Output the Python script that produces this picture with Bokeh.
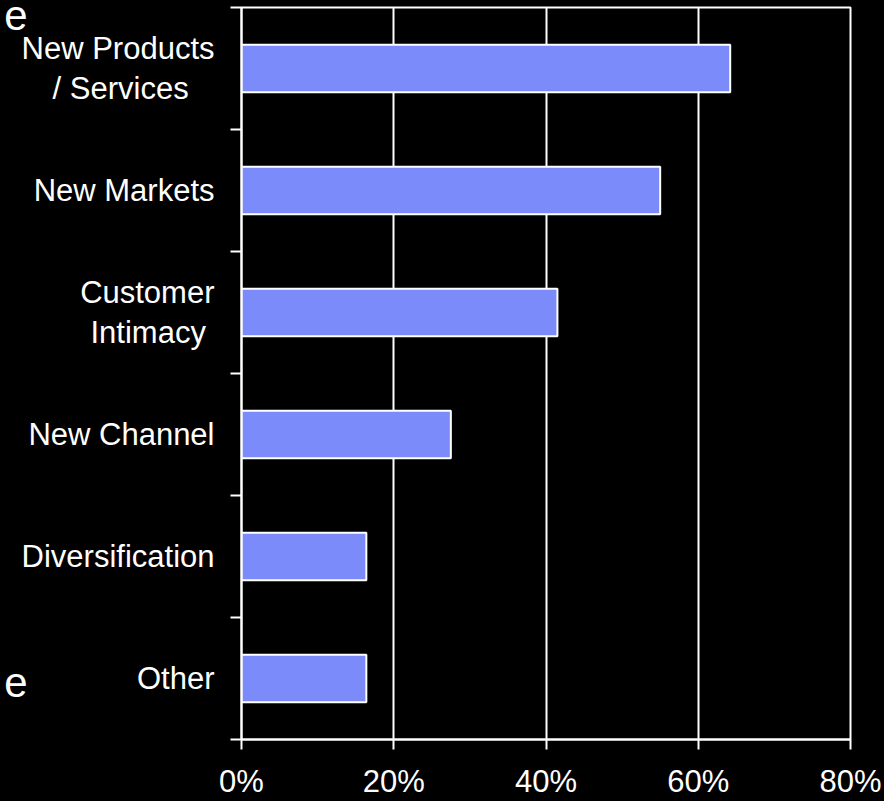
from bokeh.plotting import figure
from bokeh.models import (Range1d, FixedTicker, PrintfTickFormatter, LinearAxis,
                          GlobalInlineStyleSheet, ColumnDataSource)
from bokeh.embed import file_html
from bokeh.resources import INLINE

# ---- data (top to bottom) ----
categories = ["New Products\n/ Services", "New Markets", "Customer\nIntimacy",
              "New Channel", "Diversification", "Other"]
values = [64.2, 55.0, 41.5, 27.5, 16.4, 16.4]          # percent
x_ticks = [0, 20, 40, 60, 80]
# cropped fragments of surrounding slide text at the far left
fragment_text = ["e", "e"]
fragment_pos = [0.04, 5.53]

FONT = "Liberation Sans"
BAR = "#7B8BFA"
FS = "31px"
NBSP = "\u00a0"

n = len(categories)
pos = [i + 0.5 for i in range(n)]

# approximate advance widths (em) of the sans font, used to centre two-line labels
_W = {" ": .278, "/": .278, "N": .722, "P": .667, "S": .667, "C": .722, "I": .278,
      "e": .556, "w": .722, "r": .333, "o": .556, "d": .556, "u": .556, "c": .5,
      "t": .278, "s": .5, "v": .5, "i": .222, "m": .833, "n": .556, "a": .556, "y": .5}


def _width(s):
    return sum(_W.get(ch, .556) for ch in s)


def centred(label):
    # pad shorter lines so the lines of a right-aligned block look centred
    lines = label.split("\n")
    if len(lines) == 1:
        return label
    w = max(_width(s) for s in lines)
    return "\n".join(s + NBSP * int(round((w - _width(s)) / 2 / .278))
                     for s in lines)


p = figure(width=884, height=801, output_backend="svg", toolbar_location=None,
           x_range=Range1d(0, 80), y_range=Range1d(n, 0),
           min_border_left=241, min_border_right=34,
           min_border_top=7, min_border_bottom=58)
p.stylesheets = [GlobalInlineStyleSheet(
    css="html, body {margin:0 !important; padding:0; background:#000; overflow:hidden;}")]

p.background_fill_color = "black"
p.border_fill_color = "black"
p.outline_line_color = "white"
p.outline_line_width = 2

src = ColumnDataSource(dict(y=pos, right=values))
p.hbar(y="y", right="right", left=0, height=0.39, source=src,
       fill_color=BAR, line_color="white", line_width=2)

# x axis
xa = p.xaxis[0]
xa.ticker = FixedTicker(ticks=x_ticks)
xa.formatter = PrintfTickFormatter(format="%d%%")
xa.axis_line_color = "white"
xa.axis_line_width = 2
xa.major_tick_line_color = "white"
xa.major_tick_line_width = 2
xa.major_tick_out = 10
xa.major_tick_in = 0
xa.minor_tick_line_color = None
xa.major_label_text_color = "white"
xa.major_label_text_font = FONT
xa.major_label_text_font_size = FS
xa.major_label_standoff = 14

# y axis: labels at category centres, tick marks at category boundaries
ya = p.yaxis[0]
ya.ticker = FixedTicker(ticks=pos, minor_ticks=list(range(n + 1)))
ya.major_label_overrides = {pv: centred(c) for pv, c in zip(pos, categories)}
ya.axis_line_color = "white"
ya.axis_line_width = 2
ya.major_tick_line_color = None
ya.major_tick_out = 0
ya.major_tick_in = 0
ya.minor_tick_line_color = "white"
ya.minor_tick_line_width = 2
ya.minor_tick_out = 11
ya.minor_tick_in = 0
ya.major_label_text_color = "white"
ya.major_label_text_font = FONT
ya.major_label_text_font_size = FS
ya.major_label_text_line_height = 1.15
ya.major_label_standoff = 16

# outer left axis only carrying the cropped text fragments
fa = LinearAxis(ticker=FixedTicker(ticks=fragment_pos),
                major_label_overrides={pv: t for pv, t in zip(fragment_pos, fragment_text)},
                axis_line_color=None, major_tick_line_color=None,
                minor_tick_line_color=None, major_tick_out=0, major_tick_in=0,
                major_label_standoff=-9, major_label_text_color="white",
                major_label_text_font=FONT, major_label_text_font_size="42px")
p.add_layout(fa, "left")

p.xgrid.grid_line_color = "white"
p.xgrid.grid_line_width = 2
p.ygrid.grid_line_color = None

open("out.html", "w").write(file_html(p, INLINE))
